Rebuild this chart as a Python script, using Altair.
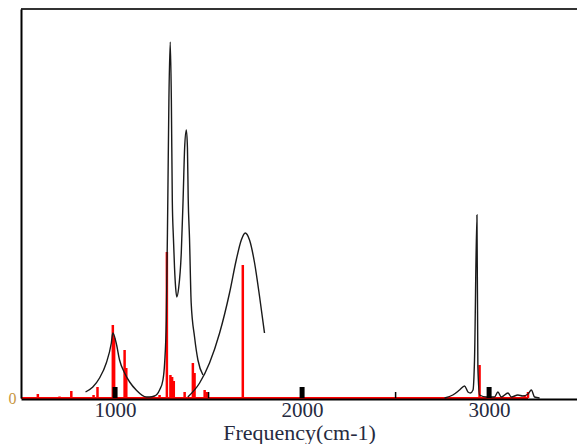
import altair as alt
import pandas as pd

# ---- data ----
stick_freq = [587, 703, 766, 885, 906, 988, 995, 1051, 1060, 1238, 1277, 1296, 1305, 1314,
              1372, 1416, 1425, 1479, 1490, 1683, 2949, 3190, 3208]
stick_int = [4, 1.5, 7, 3, 11, 73, 60, 48, 30, 3, 146, 23, 21, 17,
             6, 35, 25, 8, 6, 133, 33, 3, 6]

segA_freq = [842, 881, 917, 953, 980, 988, 1006, 1024, 1051, 1078, 1113, 1167, 1184, 1211,
             1238, 1256, 1265, 1274, 1282, 1288, 1295, 1301, 1306, 1312, 1318, 1324, 1330,
             1340, 1354, 1364, 1372, 1381, 1387, 1391, 1398, 1407, 1425, 1443, 1470]
segA_int = [6, 11, 20, 35, 55, 65, 55, 38, 25, 16, 8, 1, 1, 2,
            8, 18, 35, 78, 198, 300, 356, 298, 198, 160, 130, 110, 101,
            110, 145, 200, 250, 268, 250, 200, 160, 95, 61, 38, 23]

segB_freq = [1389, 1452, 1505, 1559, 1612, 1648, 1675, 1696, 1719, 1746, 1773, 1799]
segB_int = [1, 15, 35, 65, 105, 138, 158, 165, 158, 135, 101, 65]

segC_freq = [2762, 2806, 2842, 2869, 2887, 2900, 2914, 2922, 2935, 2940, 2949, 2985, 3029,
             3047, 3065, 3101, 3119, 3154, 3181, 3208, 3226, 3243, 3270]
segC_int = [0, 3, 8, 12, 6, 5, 8, 38, 183, 31, 3, 1, 1,
            6, 1, 5, 1, 3, 2, 4, 8, 1, 0]

major_ticks = [1000, 2000, 3000]
minor_ticks = [1500, 2500]
baseline_start, baseline_end = 497, 3208
x_domain = [497, 3470]
y_domain = [0, 389]

FONT = "Liberation Serif"

sticks = pd.DataFrame({"freq": stick_freq, "inten": stick_int, "zero": 0})
curve = pd.concat([
    pd.DataFrame({"freq": segA_freq, "inten": segA_int, "seg": "A"}),
    pd.DataFrame({"freq": segB_freq, "inten": segB_int, "seg": "B"}),
    pd.DataFrame({"freq": segC_freq, "inten": segC_int, "seg": "C"}),
], ignore_index=True)
major = pd.DataFrame({"freq": major_ticks})
minor = pd.DataFrame({"freq": minor_ticks})
base_df = pd.DataFrame({"x0": [baseline_start], "x1": [baseline_end], "y": [0]})

xscale = alt.Scale(domain=x_domain, nice=False, zero=False)
yscale = alt.Scale(domain=y_domain, nice=False)

xaxis = alt.Axis(values=major_ticks, format="d", title="Frequency(cm-1)", grid=False, ticks=False,
                 domainColor="black", domainWidth=2, offset=1, zindex=1,
                 labelFont=FONT, labelFontSize=21, labelColor="#262a40", labelPadding=0,
                 titleFont=FONT, titleFontSize=22, titleFontWeight="normal",
                 titleColor="#262a40", titleBaseline="alphabetic", titleY=40,
                 labelFlush=False)
yaxis = alt.Axis(values=[0], title=None, grid=False, ticks=False,
                 domainColor="black", domainWidth=2, zindex=1,
                 labelFont=FONT, labelFontSize=16, labelColor="#c89640", labelPadding=5)

baseline = alt.Chart(base_df).mark_rule(color="#ff0000", strokeWidth=2).encode(
    x=alt.X("x0:Q", scale=xscale, axis=xaxis),
    x2="x1:Q",
    y=alt.Y("y:Q", scale=yscale, axis=yaxis),
)

stick_layer = alt.Chart(sticks).mark_rule(color="#ff0000", strokeWidth=2.5).encode(
    x=alt.X("freq:Q", scale=xscale),
    y=alt.Y("inten:Q", scale=yscale),
    y2="zero:Q",
)

curve_layer = alt.Chart(curve).mark_line(color="#1a1a1a", strokeWidth=1.4,
                                         interpolate="monotone").encode(
    x=alt.X("freq:Q", scale=xscale),
    y=alt.Y("inten:Q", scale=yscale),
    detail="seg:N",
)

major_layer = alt.Chart(major).mark_rule(color="black", strokeWidth=5).encode(
    x=alt.X("freq:Q", scale=xscale),
    y=alt.value(378), y2=alt.value(389),
)
minor_layer = alt.Chart(minor).mark_rule(color="black", strokeWidth=1.5).encode(
    x=alt.X("freq:Q", scale=xscale),
    y=alt.value(383), y2=alt.value(389),
)

top_rule = alt.Chart(base_df).mark_rule(color="#333333", strokeWidth=2).encode(
    x=alt.value(0), x2=alt.value(556), y=alt.value(0),
)

chart = alt.layer(baseline, stick_layer, curve_layer, major_layer, minor_layer, top_rule).properties(
    width=556, height=389,
    padding={"left": 21, "top": 9, "right": 0, "bottom": 46},
    autosize=alt.AutoSizeParams(type="none"),
    background="white",
).configure_view(stroke=None)

chart.save("out.html", embed_options={"renderer": "svg", "actions": False})
